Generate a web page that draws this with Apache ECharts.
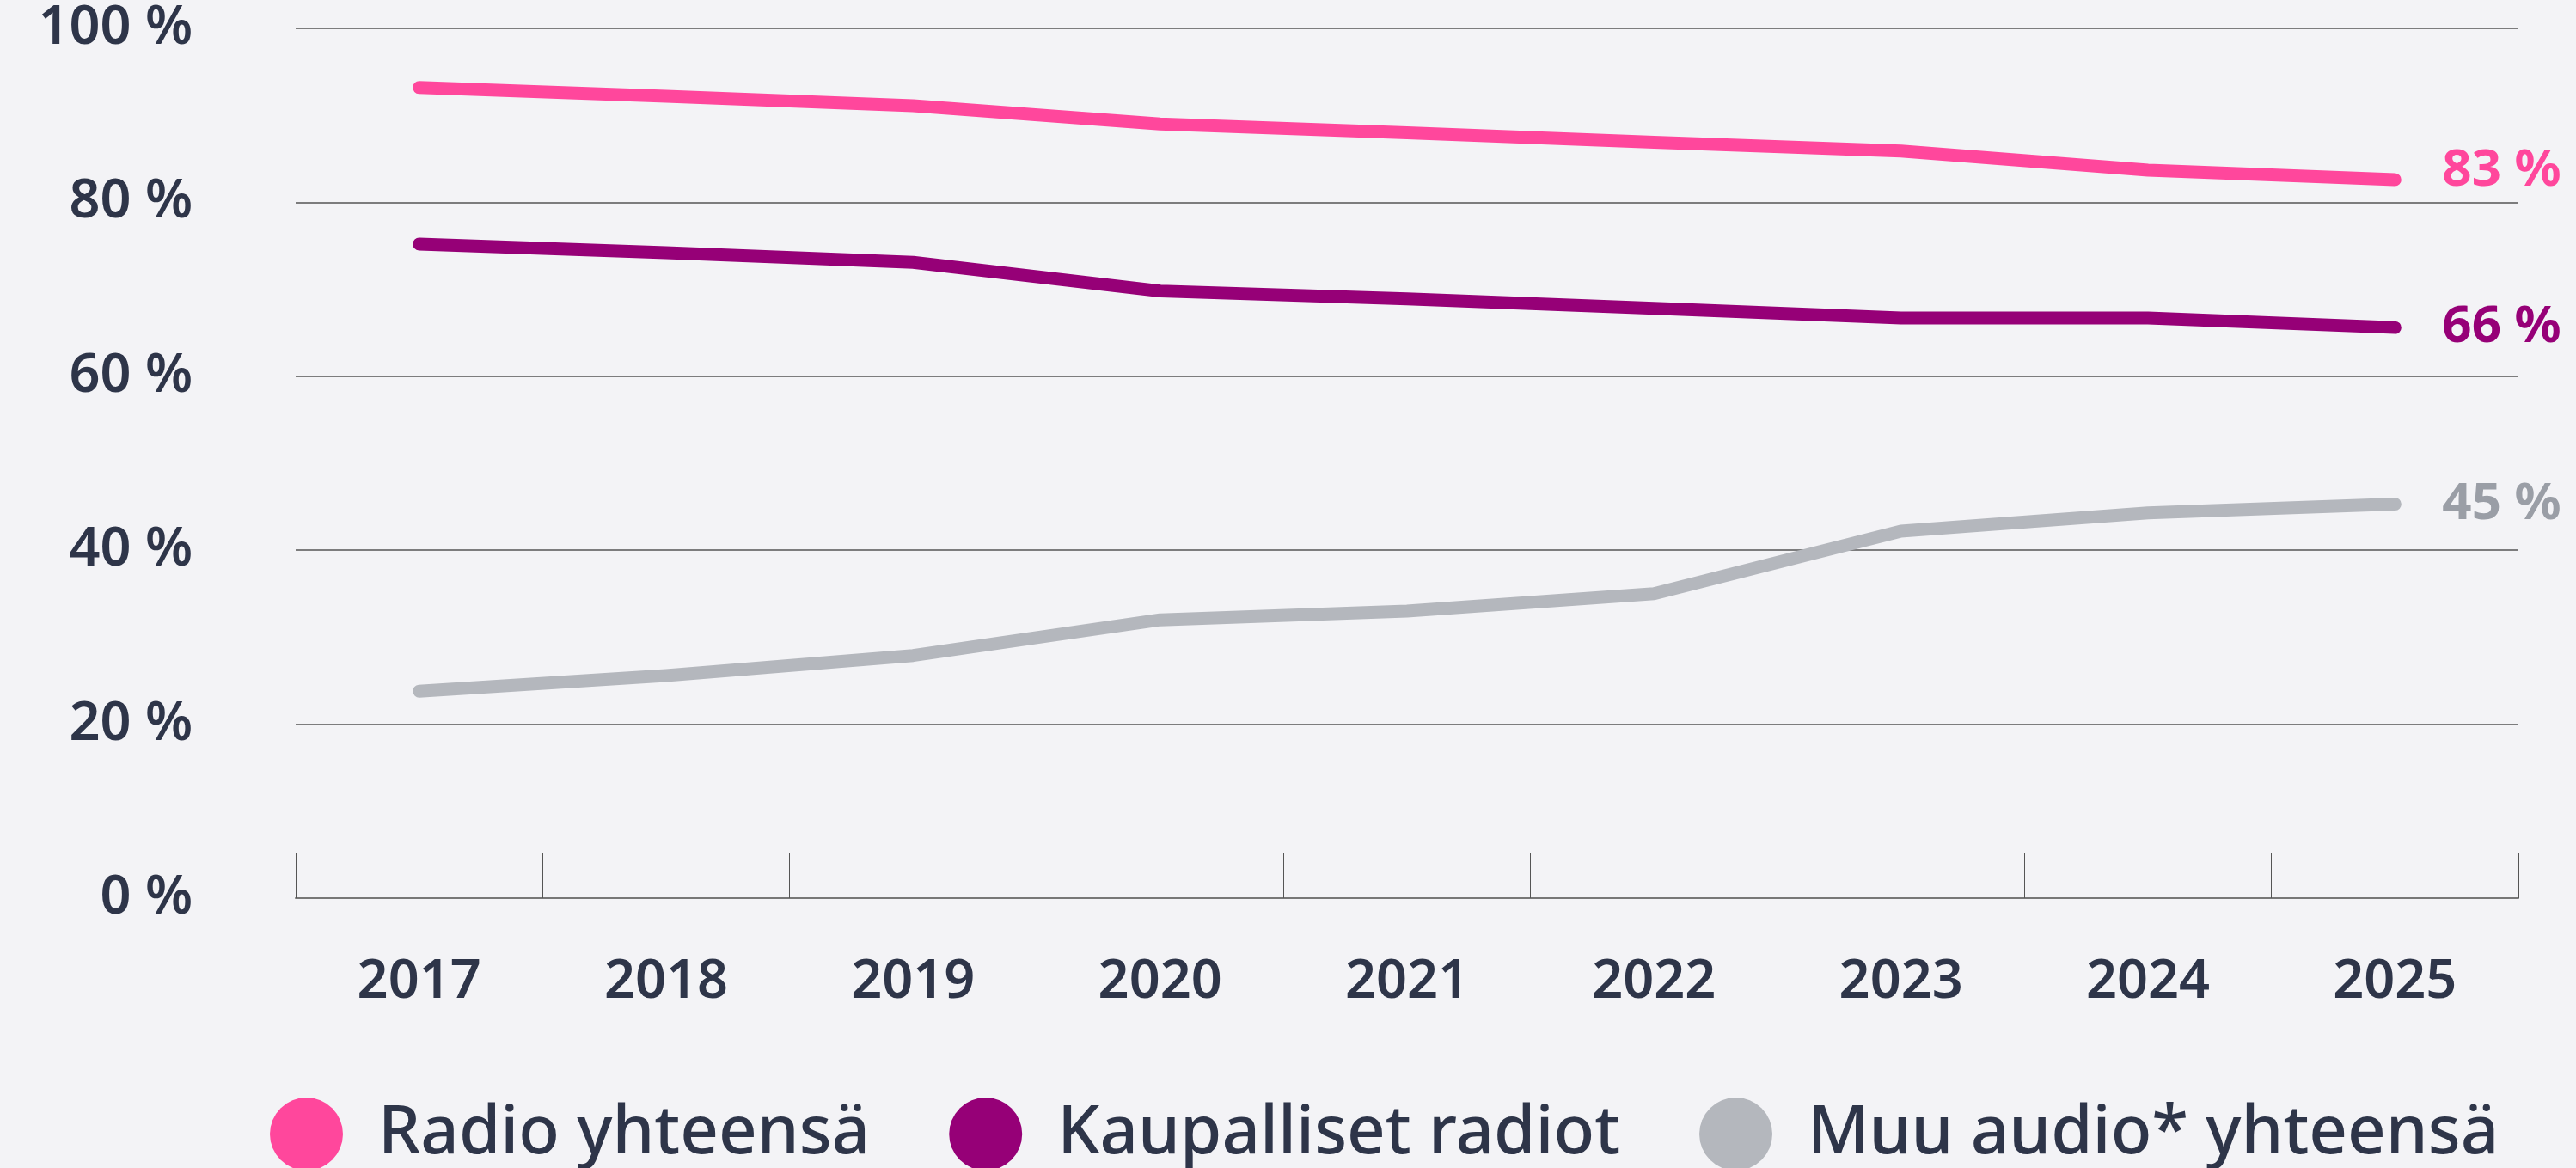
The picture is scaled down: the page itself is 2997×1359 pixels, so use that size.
<!DOCTYPE html>
<html>
<head>
<meta charset="utf-8">
<script src="https://cdn.jsdelivr.net/npm/echarts@6/dist/echarts.min.js"></script>
<style>
  html, body { margin: 0; padding: 0; background: #f3f3f6; }
  #chart { width: 2997px; height: 1359px; }
</style>
</head>
<body>
<div id="chart"></div>
<script>
// vuodet ja sarjat
var years = ["2017", "2018", "2019", "2020", "2021", "2022", "2023", "2024", "2025"];
var radioTotal = [93.2, 92.2, 91.1, 89.0, 88.0, 86.9, 85.9, 83.7, 82.6];
var commercialRadio = [75.2, 74.2, 73.1, 69.8, 68.9, 67.8, 66.7, 66.7, 65.6];
var otherAudio = [23.8, 25.6, 27.9, 32.0, 33.0, 35.0, 42.2, 44.3, 45.3];
var seriesNames = ["Radio yhteensä", "Kaupalliset radiot", "Muu audio* yhteensä"];

var textColor = "#2e3549";
var fontFamily = "'Noto Sans', sans-serif";

var myChart = echarts.init(document.getElementById("chart"));

function makeLine(name, data, color, labelColor, labelOffset) {
  return {
    name: name,
    type: "line",
    data: data,
    symbol: "none",
    color: color,
    lineStyle: { width: 15, color: color, cap: "round", join: "round" },
    endLabel: {
      show: true,
      distance: 55,
      offset: labelOffset,
      color: labelColor,
      fontSize: 60,
      fontWeight: 700,
      fontFamily: fontFamily,
      formatter: function (p) {
        return Math.round(p.value) + " %";
      }
    },
    emphasis: { disabled: true }
  };
}

var option = {
  backgroundColor: "#f3f3f6",
  animation: false,
  grid: {
    left: 344,
    right: 67,
    top: 33,
    bottom: 314
  },
  legend: {
    left: 309,
    top: 1272,
    icon: "circle",
    itemWidth: 85,
    itemHeight: 85,
    itemGap: 92,
    textStyle: {
      color: textColor,
      fontSize: 78,
      fontWeight: 500,
      fontFamily: fontFamily,
      padding: [0, 0, 0, 36]
    },
    data: seriesNames
  },
  xAxis: {
    type: "category",
    data: years,
    boundaryGap: true,
    axisLine: { lineStyle: { color: "#777", width: 2 } },
    axisTick: {
      show: true,
      inside: true,
      length: 53,
      lineStyle: { color: "#555", width: 1 }
    },
    axisLabel: {
      margin: 67,
      color: textColor,
      fontSize: 63,
      fontWeight: 600,
      fontFamily: fontFamily
    }
  },
  yAxis: {
    type: "value",
    min: 0,
    max: 100,
    interval: 20,
    axisLine: { show: false },
    axisTick: { show: false },
    splitLine: {
      show: true,
      lineStyle: { color: "#555", width: 1.5 }
    },
    axisLabel: {
      margin: 120,
      color: textColor,
      fontSize: 63,
      fontWeight: 600,
      fontFamily: fontFamily,
      formatter: "{value} %"
    }
  },
  series: [
    makeLine(seriesNames[0], radioTotal, "#ff479c", "#ff479c", [0, -10]),
    makeLine(seriesNames[1], commercialRadio, "#960077", "#960077", [0, 0]),
    makeLine(seriesNames[2], otherAudio, "#b4b7bd", "#9a9ea6", [0, 0])
  ]
};

myChart.setOption(option);
window.addEventListener("resize", function () {
  myChart.resize();
});
</script>
</body>
</html>
